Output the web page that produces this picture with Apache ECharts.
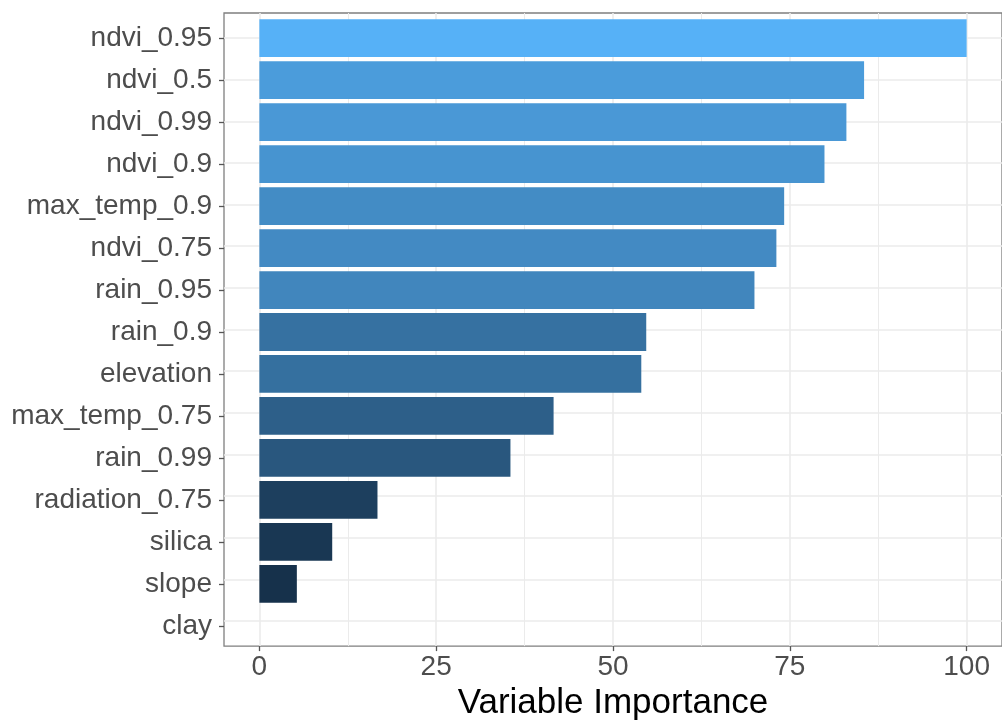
<!DOCTYPE html>
<html>
<head>
<meta charset="utf-8">
<title>Variable Importance</title>
<script src="https://cdn.jsdelivr.net/npm/echarts@6/dist/echarts.min.js"></script>
<style>
  html, body { margin: 0; padding: 0; background: #ffffff; }
  #chart { width: 1002px; height: 726px; }
</style>
</head>
<body>
<div id="chart"></div>
<script>
// Predictors, top to bottom
const categories = ['ndvi_0.95', 'ndvi_0.5', 'ndvi_0.99', 'ndvi_0.9', 'max_temp_0.9', 'ndvi_0.75',
  'rain_0.95', 'rain_0.9', 'elevation', 'max_temp_0.75', 'rain_0.99', 'radiation_0.75',
  'silica', 'slope', 'clay'];
// Scaled importance (0-100)
const importance = [100, 85.5, 83.0, 79.9, 74.2, 73.1, 70.0, 54.7, 54.0, 41.6, 35.5, 16.7, 10.3, 5.3, 0];
// Axis tick labels
const majorTicks = [0, 25, 50, 75, 100];
const minorTicks = [12.5, 37.5, 62.5, 87.5];

// Continuous fill scale: dark navy -> light blue, interpolated in CIE Lab
const lowColor = '#132B43';
const highColor = '#56B1F7';

function hexToRgb(h) {
  return [1, 3, 5].map(i => parseInt(h.substr(i, 2), 16));
}
function rgbToLab(rgb) {
  const lin = rgb.map(v => { v /= 255; return v <= 0.04045 ? v / 12.92 : Math.pow((v + 0.055) / 1.055, 2.4); });
  const X = (lin[0] * 0.4124 + lin[1] * 0.3576 + lin[2] * 0.1805) / 0.95047;
  const Y = (lin[0] * 0.2126 + lin[1] * 0.7152 + lin[2] * 0.0722);
  const Z = (lin[0] * 0.0193 + lin[1] * 0.1192 + lin[2] * 0.9505) / 1.08883;
  const f = t => t > 0.008856 ? Math.cbrt(t) : 7.787 * t + 16 / 116;
  const fx = f(X), fy = f(Y), fz = f(Z);
  return [116 * fy - 16, 500 * (fx - fy), 200 * (fy - fz)];
}
function labToRgb(lab) {
  const fy = (lab[0] + 16) / 116, fx = fy + lab[1] / 500, fz = fy - lab[2] / 200;
  const inv = t => t * t * t > 0.008856 ? t * t * t : (t - 16 / 116) / 7.787;
  const X = inv(fx) * 0.95047, Y = inv(fy), Z = inv(fz) * 1.08883;
  const r = X * 3.2406 + Y * -1.5372 + Z * -0.4986;
  const g = X * -0.9689 + Y * 1.8758 + Z * 0.0415;
  const b = X * 0.0557 + Y * -0.2040 + Z * 1.0570;
  return [r, g, b].map(v => {
    v = v <= 0.0031308 ? 12.92 * v : 1.055 * Math.pow(v, 1 / 2.4) - 0.055;
    return Math.max(0, Math.min(255, Math.round(v * 255)));
  });
}
const labLow = rgbToLab(hexToRgb(lowColor));
const labHigh = rgbToLab(hexToRgb(highColor));
const vMin = Math.min(...importance), vMax = Math.max(...importance);
function fillFor(v) {
  const t = (v - vMin) / (vMax - vMin);
  const lab = labLow.map((c, i) => c + (labHigh[i] - c) * t);
  const rgb = labToRgb(lab);
  return 'rgb(' + rgb.join(',') + ')';
}

const FONT = '"Liberation Sans", Arial, Helvetica, sans-serif';
const gridColor = '#ebebeb';
const inkColor = '#4d4d4d';
const tickColor = '#555555';

// Panel geometry: x spans -5..105, categories padded by 0.6 band at each end
const panel = { left: 224, top: 13, width: 781, height: 638 };
const band = panel.height / (categories.length + 0.2);

const chart = echarts.init(document.getElementById('chart'), null, { renderer: 'canvas' });

chart.setOption({
  animation: false,
  backgroundColor: '#ffffff',
  textStyle: { fontFamily: FONT },
  grid: [
    {
      left: panel.left, top: panel.top, width: panel.width, height: panel.height,
      show: true, borderColor: '#7f7f7f', borderWidth: 1.3, backgroundColor: 'transparent',
      containLabel: false
    },
    {
      left: panel.left, top: panel.top + 0.1 * band, width: panel.width, height: band * categories.length,
      containLabel: false
    }
  ],
  xAxis: [
    {
      gridIndex: 0, type: 'value', min: -5, max: 105,
      axisLine: { show: false, onZero: false },
      axisTick: { show: true, customValues: majorTicks, length: 5, lineStyle: { color: tickColor, width: 1.3 } },
      axisLabel: { customValues: majorTicks, fontSize: 28, color: inkColor, margin: 7, fontFamily: FONT },
      splitLine: { show: true, lineStyle: { color: gridColor, width: 1.6 } },
      name: 'Variable Importance', nameLocation: 'middle', nameGap: 37,
      nameTextStyle: { fontSize: 35, color: '#000000', fontFamily: FONT }
    },
    {
      gridIndex: 0, type: 'value', min: -5, max: 105, position: 'bottom',
      axisLine: { show: false, onZero: false },
      axisTick: { show: false, customValues: minorTicks },
      axisLabel: { show: false },
      splitLine: { show: true, lineStyle: { color: gridColor, width: 1 } }
    },
    {
      gridIndex: 1, type: 'value', min: -5, max: 105, show: false,
      axisLine: { onZero: false },
      splitLine: { show: false }
    }
  ],
  yAxis: [
    {
      gridIndex: 0, type: 'value', inverse: true, min: -0.6, max: categories.length - 1 + 0.6,
      axisLine: { show: false, onZero: false },
      axisTick: { show: false, customValues: categories.map((c, i) => i) },
      axisLabel: { show: false },
      splitLine: { show: true, lineStyle: { color: gridColor, width: 1.6 } }
    },
    {
      gridIndex: 1, type: 'category', inverse: true, data: categories, position: 'left',
      axisLine: { show: false, onZero: false },
      axisTick: { show: true, alignWithLabel: true, length: 5, lineStyle: { color: tickColor, width: 1.3 } },
      axisLabel: { fontSize: 28, color: inkColor, margin: 12, fontFamily: FONT },
      splitLine: { show: false }
    }
  ],
  series: [
    {
      type: 'bar',
      xAxisIndex: 2,
      yAxisIndex: 1,
      barWidth: '90%',
      data: importance.map(v => ({ value: v, itemStyle: { color: fillFor(v) } })),
      emphasis: { disabled: true }
    }
  ]
});
</script>
</body>
</html>
